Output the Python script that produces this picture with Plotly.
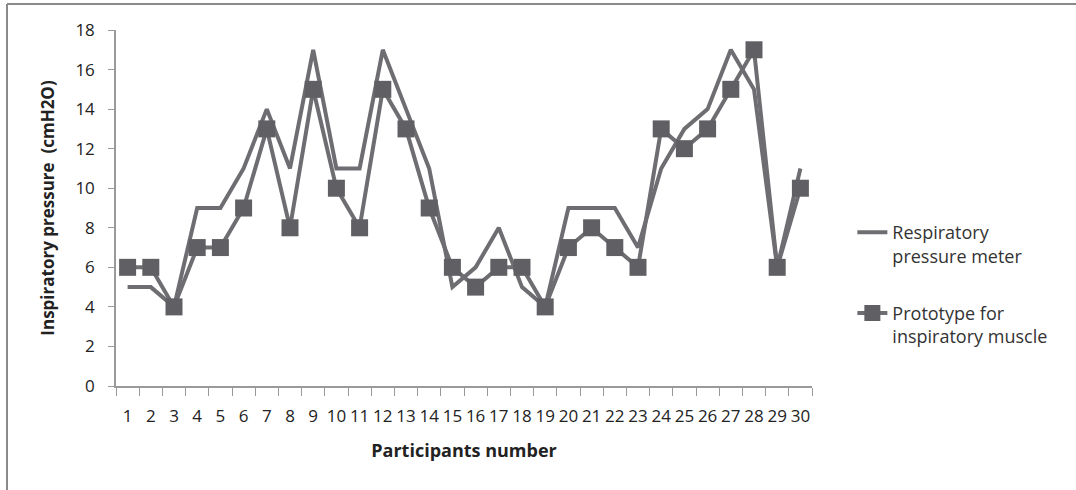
import plotly.graph_objects as go

participants = [str(i) for i in range(1, 31)]
respiratory_meter = [5, 5, 4, 9, 9, 11, 14, 11, 17, 11, 11, 17, 14, 11, 5,
                     6, 8, 5, 4, 9, 9, 9, 7, 11, 13, 14, 17, 15, 6, 11]
prototype = [6, 6, 4, 7, 7, 9, 13, 8, 15, 10, 8, 15, 13, 9, 6,
             5, 6, 6, 4, 7, 8, 7, 6, 13, 12, 13, 15, 17, 6, 10]
y_ticks = [0, 2, 4, 6, 8, 10, 12, 14, 16, 18]

W, H = 1076, 490
L, R, T, B = 116, 264, 30, 104
pw, ph = W - L - R, H - T - B

line_col = "#6e6e72"
mark_col = "#606064"
axis_col = "#9a9a9a"
font_fam = "Open Sans"

fig = go.Figure()
fig.add_trace(go.Scatter(
    x=participants, y=respiratory_meter, mode="lines",
    name="Respiratory<br>pressure meter", legendgroup="a",
    line=dict(color=line_col, width=4),
))
fig.add_trace(go.Scatter(
    x=participants, y=prototype, mode="lines+markers",
    name="Prototype for<br>inspiratory muscle", legendgroup="b",
    line=dict(color=line_col, width=4),
    marker=dict(symbol="square", size=17, color=mark_col),
))

# outer frame (top and left edges)
fx = (7 - L) / pw
fy_top = (H - B - 4) / ph
fy_bot = (H - B - H - 5) / ph
fx_right = (W + 5 - L) / pw
fig.add_shape(type="line", xref="paper", yref="paper", x0=fx, x1=fx, y0=fy_bot, y1=fy_top,
              line=dict(color="#8a8a8a", width=2))
fig.add_shape(type="line", xref="paper", yref="paper", x0=fx, x1=fx_right, y0=fy_top, y1=fy_top,
              line=dict(color="#8a8a8a", width=2))

fig.update_layout(
    width=W, height=H,
    margin=dict(l=L, r=R, t=T, b=B, autoexpand=False),
    paper_bgcolor="white", plot_bgcolor="white",
    font=dict(family=font_fam, size=16, color="#333333"),
    showlegend=True,
    legend=dict(x=1.058, y=0.285, xanchor="left", yanchor="middle",
                valign="top", tracegroupgap=31, traceorder="grouped",
                font=dict(size=18, color="#333333")),
    xaxis=dict(
        type="category", showgrid=False, showline=True, linecolor=axis_col, linewidth=1.5,
        ticks="outside", tickson="boundaries", ticklen=8, tickcolor=axis_col, tickwidth=1,
        tickangle=0, automargin=False,
        tickfont=dict(size=17, color="#222222"), ticklabelstandoff=14,
        title=dict(text="<b>Participants number</b>", font=dict(size=18, color="#222222"), standoff=18),
        range=[-0.5, 29.5],
    ),
    yaxis=dict(
        range=[0, 18], tickvals=y_ticks, showgrid=False, zeroline=False,
        showline=True, linecolor=axis_col, linewidth=1.5, automargin=False,
        ticks="outside", ticklen=6, tickcolor=axis_col, tickwidth=1,
        tickfont=dict(size=17, color="#222222"), ticklabelstandoff=10,
        title=dict(text="<b>Inspiratory pressure  (cmH2O)</b>", font=dict(size=17, color="#222222"), standoff=16),
    ),
)

fig.write_html("out.html", config={"displayModeBar": False},
               post_script="document.body.style.margin='0';")
